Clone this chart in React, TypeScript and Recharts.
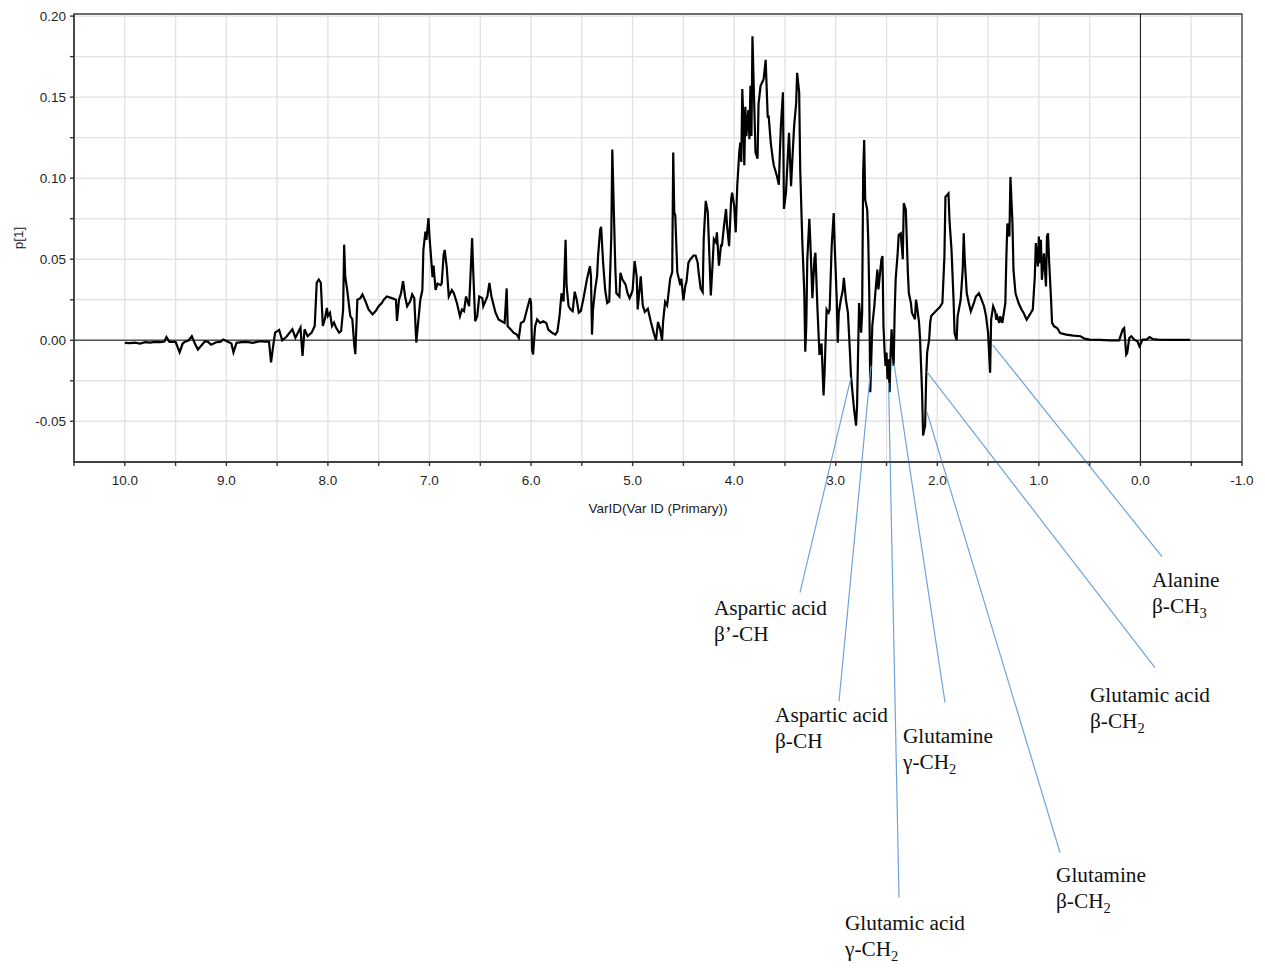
import React from 'react';
import {
  LineChart,
  Line,
  XAxis,
  YAxis,
  CartesianGrid,
  ReferenceLine,
  ReferenceArea,
  ReferenceDot,
} from 'recharts';

// Chemical shift (ppm) of each variable
const shiftPpm: number[] = [
  10.0, 9.95, 9.9, 9.85, 9.8, 9.75, 9.7, 9.65, 9.61, 9.59,
  9.56, 9.5, 9.46, 9.43, 9.41, 9.37, 9.34, 9.31, 9.28, 9.25,
  9.21, 9.18, 9.15, 9.1, 9.06, 9.03, 8.99, 8.95, 8.93, 8.9,
  8.85, 8.8, 8.74, 8.7, 8.67, 8.62, 8.58, 8.56, 8.54, 8.52,
  8.48, 8.45, 8.41, 8.35, 8.32, 8.27, 8.25, 8.23, 8.2, 8.16,
  8.13, 8.11, 8.09, 8.07, 8.05, 8.03, 8.01, 8.0, 7.98, 7.96,
  7.94, 7.92, 7.89, 7.87, 7.85, 7.84, 7.83, 7.81, 7.78, 7.76,
  7.74, 7.73, 7.71, 7.68, 7.66, 7.63, 7.6, 7.56, 7.53, 7.5,
  7.47, 7.45, 7.42, 7.37, 7.33, 7.32, 7.3, 7.28, 7.26, 7.24,
  7.22, 7.19, 7.17, 7.15, 7.13, 7.11, 7.09, 7.07, 7.06, 7.04,
  7.03, 7.01, 7.0, 6.99, 6.97, 6.96, 6.94, 6.92, 6.89, 6.88,
  6.86, 6.85, 6.83, 6.81, 6.78, 6.76, 6.73, 6.7, 6.68, 6.66,
  6.64, 6.61, 6.59, 6.58, 6.57, 6.55, 6.53, 6.51, 6.48, 6.47,
  6.43, 6.41, 6.39, 6.35, 6.32, 6.29, 6.26, 6.24, 6.23, 6.2,
  6.17, 6.14, 6.12, 6.1, 6.07, 6.04, 6.01, 6.0, 5.99, 5.98,
  5.96, 5.94, 5.91, 5.88, 5.85, 5.83, 5.79, 5.76, 5.74, 5.72,
  5.7, 5.68, 5.66, 5.65, 5.63, 5.61, 5.59, 5.57, 5.55, 5.53,
  5.51, 5.48, 5.45, 5.42, 5.41, 5.4, 5.39, 5.37, 5.35, 5.34,
  5.32, 5.31, 5.29, 5.27, 5.25, 5.23, 5.21, 5.2, 5.18, 5.17,
  5.16, 5.13, 5.12, 5.1, 5.07, 5.05, 5.03, 5.01, 5.0, 4.98,
  4.96, 4.95, 4.92, 4.9, 4.88, 4.85, 4.82, 4.79, 4.77, 4.75,
  4.73, 4.71, 4.7, 4.68, 4.66, 4.63, 4.61, 4.6, 4.59, 4.58,
  4.56, 4.53, 4.52, 4.5, 4.48, 4.47, 4.45, 4.43, 4.4, 4.38,
  4.36, 4.35, 4.33, 4.31, 4.3, 4.28, 4.26, 4.25, 4.23, 4.21,
  4.2, 4.18, 4.17, 4.15, 4.13, 4.12, 4.1, 4.08, 4.07, 4.05,
  4.03, 4.02, 4.0, 3.985, 3.97, 3.95, 3.94, 3.93, 3.92, 3.91,
  3.9, 3.89, 3.88, 3.86, 3.85, 3.84, 3.83, 3.82, 3.81, 3.79,
  3.77, 3.76, 3.74, 3.71, 3.69, 3.67, 3.66, 3.64, 3.62, 3.61,
  3.58, 3.56, 3.55, 3.54, 3.52, 3.51, 3.49, 3.47, 3.46, 3.44,
  3.43, 3.41, 3.39, 3.38, 3.36, 3.35, 3.33, 3.31, 3.3, 3.29,
  3.28, 3.26, 3.25, 3.23, 3.21, 3.2, 3.18, 3.16, 3.14, 3.12,
  3.11, 3.09, 3.07, 3.06, 3.04, 3.02, 3.01, 2.99, 2.98, 2.97,
  2.95, 2.93, 2.92, 2.9, 2.88, 2.86, 2.85, 2.82, 2.8, 2.79,
  2.78, 2.77, 2.76, 2.75, 2.74, 2.73, 2.72, 2.71, 2.69, 2.68,
  2.67, 2.66, 2.65, 2.64, 2.62, 2.61, 2.59, 2.58, 2.57, 2.55,
  2.54, 2.53, 2.52, 2.51, 2.5, 2.49, 2.48, 2.47, 2.46, 2.45,
  2.44, 2.43, 2.42, 2.41, 2.39, 2.38, 2.36, 2.34, 2.33, 2.31,
  2.29, 2.28, 2.26, 2.25, 2.22, 2.21, 2.2, 2.18, 2.17, 2.15,
  2.14, 2.12, 2.11, 2.1, 2.08, 2.07, 2.06, 2.03, 2.0, 1.98,
  1.95, 1.93, 1.92, 1.89, 1.88, 1.86, 1.84, 1.83, 1.81, 1.8,
  1.77, 1.75, 1.74, 1.73, 1.71, 1.69, 1.67, 1.64, 1.62, 1.59,
  1.57, 1.54, 1.52, 1.5, 1.49, 1.48, 1.47, 1.45, 1.43, 1.42,
  1.41, 1.39, 1.38, 1.36, 1.35, 1.33, 1.32, 1.31, 1.29, 1.28,
  1.26, 1.25, 1.23, 1.2, 1.17, 1.15, 1.12, 1.08, 1.06, 1.04,
  1.03, 1.01, 1.0, 0.99, 0.98, 0.97, 0.95, 0.93, 0.92, 0.91,
  0.9, 0.88, 0.87, 0.85, 0.82, 0.79, 0.73, 0.66, 0.59, 0.55,
  0.5, 0.4, 0.3, 0.21, 0.175, 0.16, 0.14, 0.13, 0.11, 0.09,
  0.06, 0.03, 0.01, -0.007, -0.02, -0.06, -0.09, -0.12, -0.17, -0.3,
  -0.49,
];

// Loading p[1] of each variable
const loadingP1: number[] = [
  -0.0016, -0.0018, -0.0015, -0.002, -0.0012, -0.0015, -0.001, -0.0012, -0.0008, 0.002,
  -0.001, -0.001, -0.0074, -0.002, -0.001, 0.0, 0.0025, -0.002, -0.0057, -0.0035,
  -0.0006, -0.001, -0.0027, -0.0012, -0.001, 0.0004, -0.0008, -0.002, -0.0074, -0.0016,
  -0.0012, -0.001, -0.0016, -0.001, -0.0006, -0.0008, -0.0008, -0.0137, -0.004, 0.0047,
  0.0064, 0.0, 0.002, 0.0068, 0.0016, 0.0078, -0.0096, 0.0068, 0.0025, 0.0047,
  0.0088, 0.0355, 0.0375, 0.0355, 0.0088, 0.013, 0.02, 0.015, 0.017, 0.0088,
  0.011, 0.0078, 0.0047, 0.0057, 0.019, 0.059, 0.0395, 0.031, 0.015, 0.013,
  -0.0035, -0.0086, 0.025, 0.026, 0.0283, 0.024, 0.019, 0.016, 0.018, 0.021,
  0.023, 0.025, 0.027, 0.026, 0.025, 0.0119, 0.025, 0.029, 0.0365, 0.027,
  0.021, 0.024, 0.0283, 0.026, -0.0014, 0.012, 0.025, 0.031, 0.0557, 0.067,
  0.062, 0.0754, 0.064, 0.0557, 0.039, 0.046, 0.031, 0.035, 0.034, 0.035,
  0.053, 0.0557, 0.045, 0.027, 0.031, 0.029, 0.023, 0.0148, 0.019, 0.018,
  0.027, 0.021, 0.0487, 0.063, 0.044, 0.0117, 0.0148, 0.027, 0.026, 0.021,
  0.027, 0.0354, 0.027, 0.017, 0.0128, 0.0117, 0.0107, 0.032, 0.0086, 0.0066,
  0.0045, 0.0035, 0.0014, 0.0107, 0.0117, 0.019, 0.026, 0.023, -0.0058, -0.0088,
  0.0086, 0.0128, 0.0107, 0.0117, 0.0107, 0.0066, 0.0045, 0.0035, 0.0055, 0.0148,
  0.029, 0.024, 0.062, 0.0335, 0.021, 0.019, 0.018, 0.03, 0.025, 0.017,
  0.018, 0.027, 0.0375, 0.0457, 0.0395, 0.0035, 0.019, 0.031, 0.0395, 0.052,
  0.068, 0.07, 0.0475, 0.031, 0.023, 0.024, 0.064, 0.1177, 0.068, 0.044,
  0.029, 0.027, 0.0416, 0.0375, 0.0345, 0.029, 0.026, 0.029, 0.031, 0.0488,
  0.0395, 0.019, 0.0395, 0.0215, 0.0175, 0.0195, 0.0113, 0.0041, 0.0, 0.0113,
  0.0072, 0.0, 0.0113, 0.0236, 0.0215, 0.038, 0.042, 0.1158, 0.079, 0.077,
  0.042, 0.034, 0.038, 0.0246, 0.034, 0.036, 0.048, 0.05, 0.0523, 0.0523,
  0.048, 0.042, 0.0318, 0.0297, 0.0625, 0.086, 0.079, 0.0625, 0.0277, 0.05,
  0.0625, 0.0605, 0.0666, 0.046, 0.0585, 0.0585, 0.0707, 0.081, 0.0707, 0.058,
  0.087, 0.091, 0.083, 0.0666, 0.095, 0.116, 0.122, 0.11, 0.155, 0.136,
  0.108, 0.144, 0.126, 0.142, 0.124, 0.157, 0.126, 0.1875, 0.163, 0.116,
  0.112, 0.146, 0.157, 0.161, 0.173, 0.138, 0.138, 0.122, 0.112, 0.108,
  0.1015, 0.096, 0.116, 0.132, 0.153, 0.081, 0.091, 0.116, 0.128, 0.095,
  0.108, 0.132, 0.146, 0.165, 0.153, 0.106, 0.0625, 0.03, -0.007, 0.009,
  0.05, 0.075, 0.0605, 0.026, 0.05, 0.054, 0.0195, -0.009, -0.002, -0.034,
  -0.02, 0.019, 0.017, 0.019, 0.058, 0.0785, 0.058, 0.025, -0.0015, 0.017,
  0.025, 0.031, 0.0385, 0.025, 0.017, -0.0076, -0.022, -0.0424, -0.0527, -0.04,
  -0.0076, 0.023, 0.015, 0.0047, 0.017, 0.103, 0.1236, 0.0867, 0.0805, 0.062,
  0.029, -0.032, -0.0117, 0.0088, 0.0211, 0.0293, 0.0436, 0.0314, 0.0375, 0.05,
  0.052, 0.0088, -0.0055, -0.0158, -0.0076, -0.024, -0.0117, -0.032, -0.0076, 0.0068,
  -0.0076, -0.0158, 0.017, 0.0375, 0.054, 0.065, 0.066, 0.05, 0.0846, 0.0805,
  0.042, 0.029, 0.023, 0.017, 0.013, 0.025, 0.021, 0.011, 0.001, -0.032,
  -0.0588, -0.0527, -0.024, -0.0076, 0.0006, 0.011, 0.015, 0.017, 0.019, 0.02,
  0.023, 0.0516, 0.0885, 0.0906, 0.074, 0.0557, 0.025, 0.0045, 0.0, 0.0148,
  0.025, 0.0434, 0.066, 0.05, 0.029, 0.023, 0.0178, 0.023, 0.027, 0.029,
  0.026, 0.021, 0.0148, 0.0045, -0.008, -0.02, 0.0127, 0.021, 0.0178, 0.0127,
  0.0148, 0.0107, 0.0148, 0.0107, 0.0148, 0.023, 0.0516, 0.0721, 0.064, 0.1008,
  0.0721, 0.0434, 0.029, 0.023, 0.0189, 0.0168, 0.0127, 0.0168, 0.0189, 0.0393,
  0.06, 0.0455, 0.064, 0.0475, 0.062, 0.0373, 0.0537, 0.0332, 0.064, 0.066,
  0.05, 0.025, 0.0107, 0.0086, 0.0076, 0.0045, 0.0035, 0.0029, 0.0025, 0.001,
  0.0004, 0.0002, 0.0, 0.0, 0.0066, 0.0076, -0.0088, -0.0078, 0.0014, 0.0025,
  0.0004, -0.0006, -0.0037, -0.0016, 0.0004, 0.0004, 0.002, 0.0008, 0.0004, 0.0002,
  0.0002,
];

const xTicks: number[] = [
  10.5, 10.0, 9.5, 9.0, 8.5, 8.0, 7.5, 7.0, 6.5, 6.0, 5.5, 5.0,
  4.5, 4.0, 3.5, 3.0, 2.5, 2.0, 1.5, 1.0, 0.5, 0.0, -0.5, -1.0,
];
const yTicks: number[] = [
  -0.05, -0.025, 0, 0.025, 0.05, 0.075, 0.1, 0.125, 0.15, 0.175, 0.2,
];
const xDomain: [number, number] = [-1.0, 10.5];
const yDomain: [number, number] = [-0.0751, 0.2013];

// Assignment call-outs: point on the spectrum, end of leader line, text anchor
const annotations = [
  { title: 'Aspartic acid', group: 'β’-CH', sub: '', at: [2.85, -0.0231], end: [3.352, -0.1557], text: [4.199, -0.1693] },
  { title: 'Aspartic acid', group: 'β-CH', sub: '', at: [2.653, -0.0157], end: [2.968, -0.2229], text: [3.598, -0.2353] },
  { title: 'Glutamic acid', group: 'γ-CH', sub: '2', at: [2.48, -0.0262], end: [2.377, -0.3438], text: [2.909, -0.3641] },
  { title: 'Glutamine', group: 'γ-CH', sub: '2', at: [2.426, -0.0145], end: [1.924, -0.2235], text: [2.338, -0.2482] },
  { title: 'Glutamine', group: 'β-CH', sub: '2', at: [2.104, -0.0439], end: [0.792, -0.316], text: [0.831, -0.3345] },
  { title: 'Glutamic acid', group: 'β-CH', sub: '2', at: [2.104, -0.0194], end: [-0.143, -0.202], text: [0.497, -0.2229] },
  { title: 'Alanine', group: 'β-CH', sub: '3', at: [1.455, -0.0028], end: [-0.212, -0.1335], text: [-0.114, -0.152] },
];

const data = shiftPpm.map((ppm, i) => ({ ppm, p1: loadingP1[i] }));

const SANS = "'Liberation Sans', Arial, sans-serif";
const SERIF = "'Liberation Serif', 'Times New Roman', serif";

const makeLabelShape = (a: { title: string; group: string; sub: string }) => (props: any) => {
  const { cx, cy } = props;
  return (
    <text fontFamily={SERIF} fontSize={21.3} fill="#111">
      <tspan x={cx} y={cy}>{a.title}</tspan>
      <tspan x={cx} y={cy + 26}>{a.group}</tspan>
      {a.sub ? (
        <tspan fontSize={14.5} dy={5}>
          {a.sub}
        </tspan>
      ) : null}
    </text>
  );
};

const XTitle = (props: any) => {
  const vb = props.viewBox || { x: 74, y: 462, width: 1168 };
  return (
    <text
      x={vb.x + vb.width / 2}
      y={vb.y + 51}
      textAnchor="middle"
      fontFamily={SANS}
      fontSize={13.5}
      fill="#222"
    >
      VarID(Var ID (Primary))
    </text>
  );
};

const YTitle = (props: any) => {
  const vb = props.viewBox || { x: 0, y: 14, height: 448 };
  const cx = vb.x + 18;
  const cy = vb.y + vb.height / 2;
  return (
    <text
      x={cx}
      y={cy}
      transform={`rotate(-90, ${cx}, ${cy})`}
      textAnchor="middle"
      dominantBaseline="central"
      fontFamily={SANS}
      fontSize={13.5}
      fill="#222"
    >
      p[1]
    </text>
  );
};

export default function App() {
  return (
    <div style={{ position: 'absolute', left: 0, top: 0, width: 1265, height: 968, background: '#fff' }}>
      <LineChart
        width={1265}
        height={968}
        data={data}
        margin={{ top: 14, right: 23, left: 0, bottom: 446 }}
      >
        <CartesianGrid stroke="#e3e3e3" strokeWidth={1.4} />
        <XAxis
          dataKey="ppm"
          type="number"
          domain={xDomain}
          reversed
          ticks={xTicks}
          interval={0}
          allowDataOverflow
          height={60}
          tickSize={4}
          tickMargin={9}
          axisLine={{ stroke: '#333', strokeWidth: 1.4 }}
          tickLine={{ stroke: '#333', strokeWidth: 1.4 }}
          tick={{ fill: '#1f1f1f', fontSize: 13.5, fontFamily: SANS }}
          tickFormatter={(v: number) => (Number.isInteger(Math.round(v * 10) / 10) && v <= 10 ? v.toFixed(1) : '')}
          label={{ content: XTitle }}
        />
        <YAxis
          type="number"
          domain={yDomain}
          ticks={yTicks}
          interval={0}
          allowDataOverflow
          width={74}
          tickSize={4}
          tickMargin={4}
          axisLine={{ stroke: '#333', strokeWidth: 1.4 }}
          tickLine={{ stroke: '#333', strokeWidth: 1.4 }}
          tick={{ fill: '#1f1f1f', fontSize: 13.5, fontFamily: SANS }}
          tickFormatter={(v: number) =>
            Math.abs(Math.round(v * 1000) % 50) === 0 ? v.toFixed(2) : ''
          }
          label={{ content: YTitle }}
        />
        <ReferenceArea
          x1={xDomain[0]}
          x2={xDomain[1]}
          y1={yDomain[0]}
          y2={yDomain[1]}
          fill="none"
          fillOpacity={0}
          stroke="#444"
          strokeWidth={1.3}
          ifOverflow="visible"
        />
        <ReferenceLine y={0} stroke="#555" strokeWidth={1.5} ifOverflow="visible" />
        <ReferenceLine x={0} stroke="#111" strokeWidth={1} ifOverflow="visible" />
        <Line
          dataKey="p1"
          type="linear"
          stroke="#000"
          strokeWidth={2.2}
          dot={false}
          activeDot={false}
          isAnimationActive={false}
        />
        {annotations.map((a, i) => (
          <ReferenceLine
            key={`l${i}`}
            segment={[
              { x: a.at[0], y: a.at[1] },
              { x: a.end[0], y: a.end[1] },
            ]}
            stroke="#6fa3dc"
            strokeWidth={1.2}
            ifOverflow="visible"
          />
        ))}
        {annotations.map((a, i) => (
          <ReferenceDot
            key={`t${i}`}
            x={a.text[0]}
            y={a.text[1]}
            r={0}
            ifOverflow="visible"
            shape={makeLabelShape(a)}
          />
        ))}
      </LineChart>
    </div>
  );
}
